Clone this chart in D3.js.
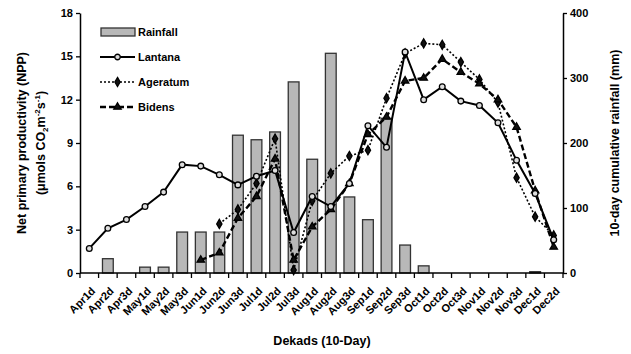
<!DOCTYPE html>
<html><head><meta charset="utf-8">
<script src="https://cdn.jsdelivr.net/npm/d3@7"></script>
<style>body{margin:0;background:#fff}svg{display:block}</style>
</head><body>
<script>
const categories = ["Apr1d","Apr2d","Apr3d","May1d","May2d","May3d","Jun1d","Jun2d","Jun3d","Jul1d","Jul2d","Jul3d","Aug1d","Aug2d","Aug3d","Sep1d","Sep2d","Sep3d","Oct1d","Oct2d","Oct3d","Nov1d","Nov2d","Nov3d","Dec1d","Dec2d"];
const rainfall = [0,22,0,9,9,63,63,63,212,205,217,294,175,338,117,82,238,43,11,0,0,0,0,0,2,0];
const lantana = [1.7,3.1,3.7,4.6,5.6,7.5,7.4,6.8,6.1,6.7,7.1,2.8,5.3,4.6,6.2,10.2,8.7,15.3,12.0,12.9,11.9,11.6,10.4,7.8,5.5,2.3];
const ageratum = [null,null,null,null,null,null,null,3.4,4.4,6.2,9.3,0.2,5.0,6.9,8.1,8.5,12.1,15.2,15.9,15.8,14.6,13.4,11.8,6.6,3.9,2.6];
const bidens = [null,null,null,null,null,null,0.9,1.4,3.8,5.3,7.9,0.9,3.2,4.4,6.2,9.6,10.8,13.3,13.5,14.8,13.9,13.1,12.0,10.1,5.7,1.8];
const leftTicks = [0,3,6,9,12,15,18];
const rightTicks = [0,100,200,300,400];

const W=631,H=354;
const m={l:80,r:68,t:13,b:81};
const svg=d3.select("body").append("svg").attr("width",W).attr("height",H)
  .style("font-family","'Liberation Sans',Arial,sans-serif").style("font-weight","bold");

const x=d3.scaleBand().domain(categories).range([m.l,W-m.r]).paddingInner(0.42).paddingOuter(0.21);
const xp=d3.scalePoint().domain(categories).range([m.l,W-m.r]).padding(0.5);
const yL=d3.scaleLinear().domain([0,18]).range([H-m.b,m.t]);
const yR=d3.scaleLinear().domain([0,400]).range([H-m.b,m.t]);

// bars
svg.append("g").selectAll("rect").data(categories.map((c,i)=>({c,v:rainfall[i]})).filter(d=>d.v>0))
 .join("rect").attr("x",d=>x(d.c)).attr("width",x.bandwidth())
 .attr("y",d=>yR(d.v)).attr("height",d=>yR(0)-yR(d.v))
 .attr("fill","#b8b8b8").attr("stroke","#333").attr("stroke-width",1.3);

// axes
const step=(W-m.l-m.r)/categories.length;
const gx=svg.append("g");
gx.append("line").attr("x1",m.l).attr("x2",W-m.r).attr("y1",yL(0)).attr("y2",yL(0)).attr("stroke","#000").attr("stroke-width",1.5);
d3.range(categories.length+1).forEach(i=>{
  gx.append("line").attr("x1",m.l+i*step).attr("x2",m.l+i*step).attr("y1",yL(0)).attr("y2",yL(0)+5).attr("stroke","#000").attr("stroke-width",1.3);
});
gx.selectAll("text").data(categories).join("text")
 .attr("transform",d=>`translate(${xp(d)+4},${yL(0)+16}) rotate(-45)`)
 .attr("text-anchor","end").attr("font-size",11).attr("dy","0.35em").text(d=>d);

const gl=svg.append("g").attr("transform",`translate(${m.l},0)`)
 .call(d3.axisLeft(yL).tickValues(leftTicks).tickSize(4).tickSizeOuter(0));
const gr=svg.append("g").attr("transform",`translate(${W-m.r},0)`)
 .call(d3.axisRight(yR).tickValues(rightTicks).tickSize(4).tickSizeOuter(0));
[gl,gr].forEach(g=>{g.select(".domain").attr("stroke-width",1.5);
 g.selectAll("text").attr("font-size",11).attr("font-family","'Liberation Sans',Arial,sans-serif").attr("font-weight","bold");
 g.selectAll(".tick line").attr("stroke-width",1.3);});

// lines
function series(vals,opts){
  const data=categories.map((c,i)=>({c,v:vals[i]}));
  const line=d3.line().defined(d=>d.v!=null).x(d=>xp(d.c)).y(d=>yL(d.v));
  svg.append("path").datum(data).attr("d",line).attr("fill","none").attr("stroke","#000")
   .attr("stroke-width",opts.w).attr("stroke-dasharray",opts.dash||null);
  const pts=data.filter(d=>d.v!=null);
  svg.append("g").selectAll("path").data(pts).join("path")
   .attr("transform",d=>`translate(${xp(d.c)},${yL(d.v)})`)
   .attr("d",d3.symbol().type(opts.sym).size(opts.size))
   .attr("fill",opts.fill).attr("stroke","#000").attr("stroke-width",1.3);
}
series(ageratum,{w:1.6,dash:"2,2",sym:d3.symbolDiamond,size:24,fill:"#111"});
series(bidens,{w:2.4,dash:"6,3",sym:d3.symbolTriangle,size:24,fill:"#111"});
series(lantana,{w:2,sym:d3.symbolCircle,size:26,fill:"#ddd"});

// legend
const lg=svg.append("g");
const rows=[{n:"Rainfall",t:"bar"},{n:"Lantana",w:2,sym:d3.symbolCircle,fill:"#ddd"},{n:"Ageratum",w:1.6,dash:"2,2",sym:d3.symbolDiamond,fill:"#111"},{n:"Bidens",w:2.4,dash:"6,3",sym:d3.symbolTriangle,fill:"#111"}];
rows.forEach((r,i)=>{
  const yy=32+i*25;
  if(r.t==="bar"){
    lg.append("rect").attr("x",101).attr("y",yy-4).attr("width",34).attr("height",8).attr("fill","#b8b8b8").attr("stroke","#333").attr("stroke-width",1.3);
  } else {
    lg.append("line").attr("x1",100).attr("x2",135).attr("y1",yy).attr("y2",yy).attr("stroke","#000").attr("stroke-width",r.w).attr("stroke-dasharray",r.dash||null);
    lg.append("path").attr("transform",`translate(117.5,${yy})`).attr("d",d3.symbol().type(r.sym).size(24)()).attr("fill",r.fill).attr("stroke","#000").attr("stroke-width",1.3);
  }
  lg.append("text").attr("x",138).attr("y",yy).attr("dy","0.35em").attr("font-size",11).text(r.n);
});

// axis titles
const cy=(yL(0)+yL(18))/2;
svg.append("text").attr("transform",`translate(26,${cy}) rotate(-90)`).attr("text-anchor","middle").attr("font-size",12.5).text("Net primary productivity (NPP)");
const t2=svg.append("text").attr("transform",`translate(45,${cy}) rotate(-90)`).attr("text-anchor","middle").attr("font-size",12.5);
t2.append("tspan").text("(μmols CO");
t2.append("tspan").attr("font-size",8).attr("dy",3).text("2");
t2.append("tspan").attr("dy",-3).text("m");
t2.append("tspan").attr("font-size",8).attr("dy",-5).text("-2");
t2.append("tspan").attr("dy",5).text("s");
t2.append("tspan").attr("font-size",8).attr("dy",-5).text("-1");
t2.append("tspan").attr("dy",5).text(")");
svg.append("text").attr("transform",`translate(619,${cy}) rotate(-90)`).attr("text-anchor","middle").attr("font-size",12.5).text("10-day cumulative rainfall (mm)");
svg.append("text").attr("x",322).attr("y",345).attr("text-anchor","middle").attr("font-size",12.5).text("Dekads (10-Day)");
</script>
</body></html>
